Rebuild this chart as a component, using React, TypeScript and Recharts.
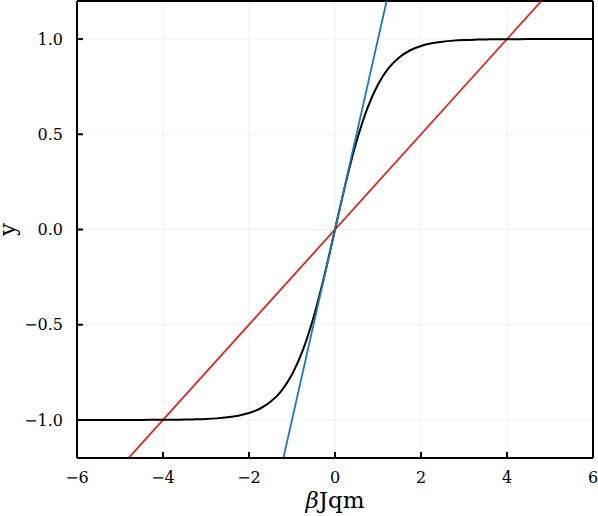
import { LineChart, Line, XAxis, YAxis, CartesianGrid, ReferenceLine } from 'recharts';

// black curve: y against βJqm
const curveX = [
  -6, -5.5, -5, -4.5, -4, -3.75, -3.5, -3.25, -3, -2.75, -2.5, -2.25, -2, -1.75, -1.5, -1.25, -1, -0.75, -0.5,
  -0.25, 0, 0.25, 0.5, 0.75, 1, 1.25, 1.5, 1.75, 2, 2.25, 2.5, 2.75, 3, 3.25, 3.5, 3.75, 4, 4.5, 5, 5.5, 6,
];
const curveY = [
  -1, -1, -0.9999, -0.9998, -0.9993, -0.9989, -0.9982, -0.997, -0.9951, -0.9919, -0.9866, -0.978, -0.964,
  -0.9414, -0.9051, -0.8483, -0.7616, -0.6351, -0.4621, -0.2449, 0, 0.2449, 0.4621, 0.6351, 0.7616, 0.8483,
  0.9051, 0.9414, 0.964, 0.978, 0.9866, 0.9919, 0.9951, 0.997, 0.9982, 0.9989, 0.9993, 0.9998, 0.9999, 1, 1,
];

// red straight line
const redX = [-6, 6];
const redY = [-1.5, 1.5];

// blue straight line
const blueX = [-1.2, 1.2];
const blueY = [-1.2, 1.2];

const xTicks = [-6, -4, -2, 0, 2, 4, 6];
const yTicks = [-1, -0.5, 0, 0.5, 1];

const curveData = curveX.map((x, i) => ({ x, y: curveY[i] }));
const redData = redX.map((x, i) => ({ x, y: redY[i] }));
const blueData = blueX.map((x, i) => ({ x, y: blueY[i] }));

const font = '"DejaVu Serif", serif';

const fmtX = (v: number) => (v < 0 ? `\u2212${Math.abs(v)}` : `${v}`);
const fmtY = (v: number) => (v < 0 ? `\u2212${Math.abs(v).toFixed(1)}` : v.toFixed(1));

function XLabel(props: any) {
  const { viewBox } = props;
  const cx = viewBox.x + viewBox.width / 2;
  return (
    <text x={cx} y={viewBox.y + 50} textAnchor="middle" fontFamily={font} fontSize={23} fill="#000">
      <tspan fontStyle="italic">β</tspan>
      <tspan>Jqm</tspan>
    </text>
  );
}

function YLabel(props: any) {
  const { viewBox } = props;
  const cy = viewBox.y + viewBox.height / 2;
  return (
    <text
      x={15}
      y={cy}
      textAnchor="middle"
      transform={`rotate(-90, 15, ${cy})`}
      fontFamily={font}
      fontSize={23}
      fill="#000"
    >
      y
    </text>
  );
}

export default function App() {
  return (
    <div style={{ position: 'absolute', left: 0, top: 0, background: '#fff' }}>
      <LineChart width={598} height={516} margin={{ top: 1, right: 5, left: 0, bottom: 0 }}>
        <CartesianGrid stroke="#f0f0f0" strokeWidth={1} horizontalValues={yTicks} verticalValues={xTicks} />
        <XAxis
          type="number"
          dataKey="x"
          domain={[-6, 6]}
          ticks={xTicks}
          allowDataOverflow
          height={58}
          tickFormatter={fmtX}
          tick={{ fill: '#000', fontFamily: font, fontSize: 16 }}
          tickSize={-6}
          tickMargin={20}
          axisLine={{ stroke: '#000', strokeWidth: 2 }}
          tickLine={{ stroke: '#000', strokeWidth: 2 }}
          label={<XLabel />}
        />
        <YAxis
          type="number"
          dataKey="y"
          domain={[-1.2, 1.2]}
          ticks={yTicks}
          allowDataOverflow
          width={77}
          tickFormatter={fmtY}
          tick={{ fill: '#000', fontFamily: font, fontSize: 16 }}
          tickSize={-6}
          tickMargin={20}
          axisLine={{ stroke: '#000', strokeWidth: 2 }}
          tickLine={{ stroke: '#000', strokeWidth: 2 }}
          label={<YLabel />}
        />
        <ReferenceLine y={1.2} stroke="#000" strokeWidth={2} />
        <ReferenceLine x={6} stroke="#000" strokeWidth={2} />
        <Line
          data={redData}
          dataKey="y"
          type="linear"
          stroke="#d62728"
          strokeWidth={1.8}
          dot={false}
          isAnimationActive={false}
        />
        <Line
          data={curveData}
          dataKey="y"
          type="monotone"
          stroke="#000"
          strokeWidth={2}
          dot={false}
          isAnimationActive={false}
        />
        <Line
          data={blueData}
          dataKey="y"
          type="linear"
          stroke="#1f77b4"
          strokeWidth={1.8}
          dot={false}
          isAnimationActive={false}
        />
      </LineChart>
    </div>
  );
}
